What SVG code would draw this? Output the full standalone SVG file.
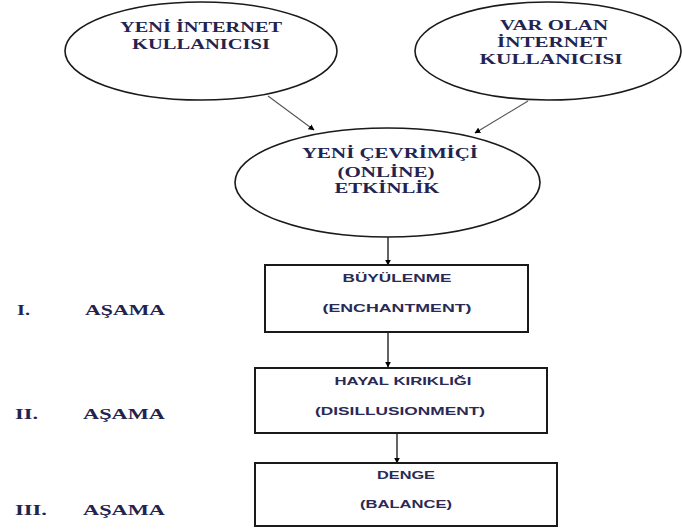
<svg xmlns="http://www.w3.org/2000/svg" width="682" height="531" viewBox="0 0 682 531">
  <style>
    .ell { fill: #ffffff; stroke: #1a1a1a; stroke-width: 1.6; }
    .box { fill: #ffffff; stroke: #1a1a1a; stroke-width: 2; }
    .et { font-family: "Liberation Serif", "Times New Roman", serif; font-weight: bold; font-size: 14px; fill: #23234f; text-anchor: middle; }
    .bt { font-family: "Liberation Sans", Arial, sans-serif; font-weight: bold; font-size: 11px; fill: #2a2a55; text-anchor: middle; }
    .lt { font-family: "Liberation Serif", "Times New Roman", serif; font-weight: bold; font-size: 15px; fill: #23234f; }
    .cd { stroke: #555555; stroke-width: 1.1; fill: none; marker-end: url(#ah); }
    .cv { stroke: #111111; stroke-width: 1.3; fill: none; marker-end: url(#ah); }
  </style>
  <defs>
    <marker id="ah" viewBox="0 0 10 10" refX="9" refY="5" markerWidth="6" markerHeight="6" markerUnits="userSpaceOnUse" orient="auto">
      <path d="M0,0 L10,5 L0,10 z" fill="#000000"/>
    </marker>
  </defs>

  <g id="connectors">
    <line class="cd" x1="268" y1="96" x2="314" y2="130"/>
    <line class="cd" x1="528" y1="101" x2="475" y2="133"/>
    <line class="cv" x1="388" y1="237" x2="388" y2="265"/>
    <line class="cv" x1="388" y1="332" x2="388" y2="367"/>
    <line class="cv" x1="397" y1="433" x2="397" y2="463"/>
  </g>

  <g id="node-yeni-internet">
    <ellipse class="ell" cx="201" cy="51" rx="136" ry="49"/>
    <text class="et" x="201" y="32" textLength="162" lengthAdjust="spacingAndGlyphs">YENİ İNTERNET</text>
    <text class="et" x="201" y="49" textLength="138" lengthAdjust="spacingAndGlyphs">KULLANICISI</text>
  </g>

  <g id="node-var-olan">
    <ellipse class="ell" cx="548" cy="51" rx="133" ry="49"/>
    <text class="et" x="554" y="30" textLength="108" lengthAdjust="spacingAndGlyphs">VAR OLAN</text>
    <text class="et" x="552" y="47" textLength="110" lengthAdjust="spacingAndGlyphs">İNTERNET</text>
    <text class="et" x="551" y="64" textLength="143" lengthAdjust="spacingAndGlyphs">KULLANICISI</text>
  </g>

  <g id="node-yeni-cevrimici">
    <ellipse class="ell" cx="387.5" cy="182.5" rx="152.5" ry="54.5"/>
    <text class="et" x="390" y="158" textLength="176" lengthAdjust="spacingAndGlyphs">YENİ ÇEVRİMİÇİ</text>
    <text class="et" x="386" y="177" textLength="97" lengthAdjust="spacingAndGlyphs">(ONLİNE)</text>
    <text class="et" x="387" y="193" textLength="105" lengthAdjust="spacingAndGlyphs">ETKİNLİK</text>
  </g>

  <g id="node-buyulenme">
    <rect class="box" x="265" y="265" width="263" height="67"/>
    <text class="bt" x="397" y="282" textLength="109" lengthAdjust="spacingAndGlyphs">BÜYÜLENME</text>
    <text class="bt" x="397" y="312" textLength="149" lengthAdjust="spacingAndGlyphs">(ENCHANTMENT)</text>
  </g>

  <g id="node-hayal-kirikligi">
    <rect class="box" x="255" y="368" width="292" height="65"/>
    <text class="bt" x="403" y="385" textLength="137" lengthAdjust="spacingAndGlyphs">HAYAL KIRIKLIĞI</text>
    <text class="bt" x="400" y="415" textLength="170" lengthAdjust="spacingAndGlyphs">(DISILLUSIONMENT)</text>
  </g>

  <g id="node-denge">
    <rect class="box" x="255" y="463" width="302" height="63"/>
    <text class="bt" x="406" y="479" textLength="58" lengthAdjust="spacingAndGlyphs">DENGE</text>
    <text class="bt" x="406" y="508" textLength="92" lengthAdjust="spacingAndGlyphs">(BALANCE)</text>
  </g>

  <g id="labels">
    <text class="lt" x="17" y="315" textLength="13" lengthAdjust="spacingAndGlyphs">I.</text>
    <text class="lt" x="85" y="315" textLength="80" lengthAdjust="spacingAndGlyphs">AŞAMA</text>
    <text class="lt" x="15" y="419" textLength="23" lengthAdjust="spacingAndGlyphs">II.</text>
    <text class="lt" x="83" y="419" textLength="82" lengthAdjust="spacingAndGlyphs">AŞAMA</text>
    <text class="lt" x="15" y="515" textLength="32" lengthAdjust="spacingAndGlyphs">III.</text>
    <text class="lt" x="83" y="515" textLength="82" lengthAdjust="spacingAndGlyphs">AŞAMA</text>
  </g>
</svg>
